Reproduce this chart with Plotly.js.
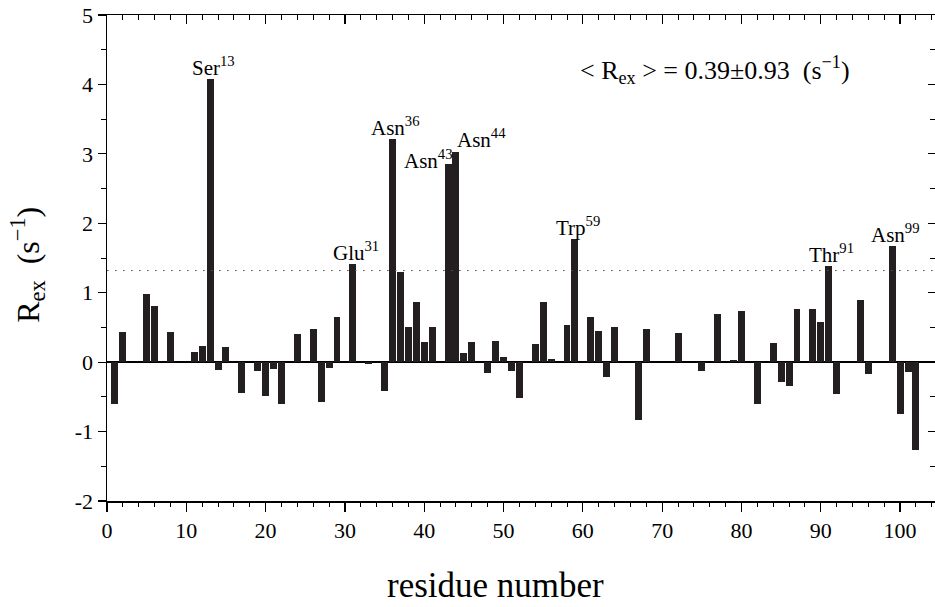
<!DOCTYPE html>
<html>
<head>
<meta charset="utf-8">
<script src="https://cdn.plot.ly/plotly-3.0.1.min.js"></script>
<style>html,body{margin:0;padding:0;background:#fff;}#chart{width:935px;height:607px;}</style>
</head>
<body>
<div id="chart"></div>
<script>
// residue numbers and Rex values (s^-1)
var residues = [1,2,5,6,8,11,12,13,14,15,17,19,20,21,22,24,26,27,28,29,31,33,35,36,37,38,39,40,41,43,44,45,46,48,49,50,51,52,54,55,56,58,59,61,62,63,64,67,68,72,75,77,79,80,82,84,85,86,87,89,90,91,92,95,96,99,100,101,102];
var rex = [-0.60,0.43,0.98,0.81,0.43,0.14,0.23,4.08,-0.12,0.22,-0.45,-0.13,-0.49,-0.10,-0.60,0.40,0.48,-0.58,-0.09,0.65,1.42,-0.02,-0.42,3.21,1.30,0.51,0.87,0.29,0.50,2.85,3.02,0.13,0.29,-0.16,0.31,0.08,-0.13,-0.52,0.26,0.86,0.05,0.54,1.77,0.65,0.45,-0.22,0.50,-0.83,0.48,0.42,-0.13,0.70,0.03,0.73,-0.60,0.28,-0.29,-0.35,0.76,0.76,0.58,1.38,-0.46,0.89,-0.17,1.68,-0.74,-0.14,-1.26];

// labelled residues
var labelResidues = [13,31,36,43,44,59,91,99];
var labelNames = ["Ser","Glu","Asn","Asn","Asn","Trp","Thr","Asn"];

// mean and standard deviation
var meanRex = 0.39;
var sdRex = 0.93;

var xTicks = [0,10,20,30,40,50,60,70,80,90,100];
var yTicks = [-2,-1,0,1,2,3,4,5];

var xTitle = "residue number";
var yTitle = "R<sub>ex</sub>&nbsp;&nbsp;(s<sup>\u22121</sup>)";

var FONT = "Liberation Serif";
var BAR = "#231f20";

var xRange = [0, 104.4];
var yRange = [-2, 5];

var annotations = [];
for (var i = 0; i < labelResidues.length; i++) {
  var r = labelResidues[i];
  var v = rex[residues.indexOf(r)];
  var anchor = "center", xs = 3, ys = -3;
  if (r === 43) { anchor = "right"; xs = 7; ys = -11; }
  if (r === 44) { anchor = "left"; xs = -1; ys = -2; }
  annotations.push({
    x: r, y: v, xref: "x", yref: "y",
    text: labelNames[i] + "<sup>" + r + "</sup>",
    showarrow: false, xanchor: anchor, yanchor: "bottom",
    xshift: xs, yshift: ys,
    font: {family: FONT, size: 21, color: "#000"}
  });
}
annotations.push({
  x: 0.90, y: 0.887, xref: "paper", yref: "paper",
  xanchor: "right", yanchor: "middle", showarrow: false,
  text: "&lt; R<sub>ex</sub> &gt; = " + meanRex.toFixed(2) + "\u00b1" + sdRex.toFixed(2) + "&nbsp;&nbsp;(s<sup>\u22121</sup>)",
  font: {family: FONT, size: 26, color: "#000"}
});
// axis titles
annotations.push({
  x: 0.469, y: 0, xref: "paper", yref: "paper", yshift: -84,
  xanchor: "center", yanchor: "middle", showarrow: false,
  text: xTitle, font: {family: FONT, size: 35, color: "#000"}
});
annotations.push({
  x: -0.0954, y: 0.486, xref: "paper", yref: "paper",
  xanchor: "center", yanchor: "middle", showarrow: false, textangle: -90,
  text: yTitle, font: {family: FONT, size: 32, color: "#000"}
});

var data = [
  {
    type: "bar", x: residues, y: rex, width: 0.88,
    marker: {color: BAR, line: {width: 0}},
    hoverinfo: "x+y", showlegend: false
  },
  {
    // invisible trace to activate the mirrored top/right axes
    type: "scatter", x: xRange, y: yRange, xaxis: "x2", yaxis: "y2",
    mode: "markers", marker: {opacity: 0}, hoverinfo: "skip", showlegend: false
  }
];

var layout = {
  width: 935, height: 607,
  margin: {l: 107, r: 0, t: 15, b: 106},
  paper_bgcolor: "#fff", plot_bgcolor: "#fff",
  font: {family: FONT, color: "#000"},
  showlegend: false,
  xaxis: {
    range: xRange, tickvals: xTicks, ticktext: xTicks.map(String),
    ticks: "outside", ticklen: 9, tickwidth: 1.2, tickcolor: "#000",
    minor: {dtick: 2, tick0: 0, ticks: "outside", ticklen: 4, tickwidth: 1, tickcolor: "#000", showgrid: false},
    showline: true, linecolor: "#000", linewidth: 1.5, mirror: false,
    showgrid: false, zeroline: false,
    tickfont: {family: FONT, size: 22, color: "#000"},
    automargin: false
  },
  yaxis: {
    range: yRange, tickvals: yTicks, ticktext: yTicks.map(String),
    ticks: "outside", ticklen: 8, tickwidth: 1.2, tickcolor: "#000",
    minor: {dtick: 0.5, tick0: 0, ticks: "outside", ticklen: 5, tickwidth: 1, tickcolor: "#000", showgrid: false},
    showline: true, linecolor: "#000", linewidth: 1.5,
    showgrid: false, zeroline: true, zerolinecolor: "#000", zerolinewidth: 1.6,
    tickfont: {family: FONT, size: 22, color: "#000"},
    automargin: false
  },
  xaxis2: {
    overlaying: "x", side: "top", anchor: "y2", range: xRange,
    tickvals: xTicks, showticklabels: false,
    ticks: "inside", ticklen: 9, tickwidth: 1.2, tickcolor: "#000",
    minor: {dtick: 2, tick0: 0, ticks: "inside", ticklen: 5, tickwidth: 1, tickcolor: "#000", showgrid: false},
    showline: true, linecolor: "#000", linewidth: 1.5,
    showgrid: false, zeroline: false
  },
  yaxis2: {
    overlaying: "y", side: "right", anchor: "x2", range: yRange,
    tickvals: yTicks, showticklabels: false,
    ticks: "inside", ticklen: 7, tickwidth: 1.2, tickcolor: "#000",
    minor: {dtick: 0.5, tick0: 0, ticks: "inside", ticklen: 5, tickwidth: 1, tickcolor: "#000", showgrid: false},
    showline: false, showgrid: false, zeroline: false
  },
  shapes: [{
    type: "line", xref: "paper", yref: "y", x0: 0, x1: 1,
    y0: meanRex + sdRex, y1: meanRex + sdRex,
    line: {color: "#555", width: 1.2, dash: "1.5px,6.5px"}
  }],
  annotations: annotations,
  bargap: 0
};

Plotly.newPlot("chart", data, layout, {displayModeBar: false, staticPlot: true});
</script>
</body>
</html>
